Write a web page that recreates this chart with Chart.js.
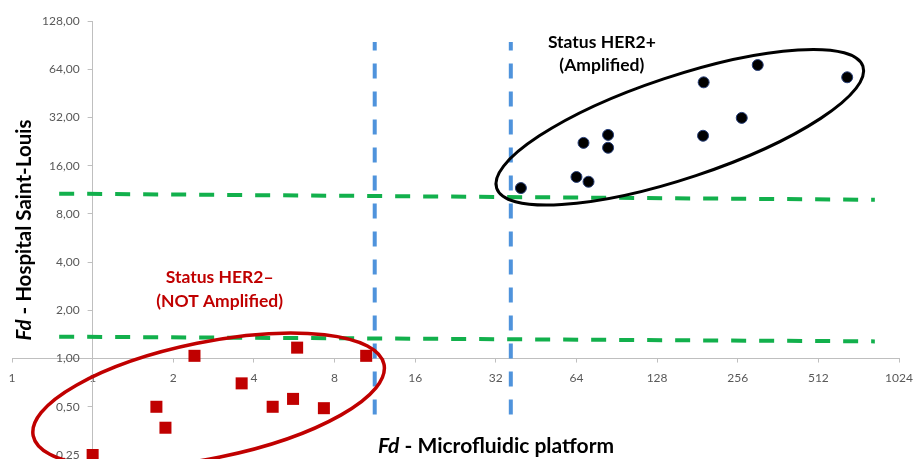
<!DOCTYPE html>
<html>
<head>
<meta charset="utf-8">
<script src="https://cdn.jsdelivr.net/npm/chart.js@4.4.0/dist/chart.umd.min.js"></script>
<style>
  html, body { margin: 0; padding: 0; background: #fff; }
  #wrap { width: 913px; height: 459px; }
</style>
</head>
<body>
<div id="wrap"><canvas id="fdChart"></canvas></div>
<script>
// tick values, both axes are log2
const xTicks = [0.5, 1, 2, 4, 8, 16, 32, 64, 128, 256, 512, 1024];
const yTicks = [0.25, 0.5, 1, 2, 4, 8, 16, 32, 64, 128];

// HER2- samples (not amplified)
const negX = [1, 1.73, 1.87, 2.4, 3.6, 4.7, 5.6, 5.8, 7.3, 10.5];
const negY = [0.25, 0.5, 0.37, 1.04, 0.70, 0.5, 0.56, 1.17, 0.49, 1.04];

// HER2+ samples (amplified)
const posX = [39.7, 64, 71, 68, 84, 84, 191, 304, 656, 265, 190];
const posY = [11.6, 13.6, 12.7, 22.2, 24.9, 20.7, 53, 68, 57, 31.8, 24.6];

// cut-off lines
const cutX = [11.3, 36.4];              // microfluidic thresholds
const cutXSpan = [0.448, 94.6];
const cutY = [[10.7, 9.8], [1.37, 1.28]]; // hospital thresholds (left, right)
const cutYSpan = [0.75, 832];

const toPts = (xs, ys) => xs.map((x, i) => ({ x: x, y: ys[i] }));

const fmtY = v => v.toFixed(2).replace('.', ',');

function flatAxis(scale) {
    scale.paddingLeft = scale.paddingRight = scale.paddingTop = scale.paddingBottom = 0;
    if (scale.isHorizontal()) scale.height = 0; else scale.width = 0;
}

// move the axes so they cross at (1, 1) like in the excel chart
const crossAxes = {
    id: 'crossAxes',
    afterLayout(chart) {
        const { x, y } = chart.scales;
        const px = x.getPixelForValue(1);
        const py = y.getPixelForValue(1);
        y.left = px - 90;
        y.right = px;
        x.top = py;
        x.bottom = py + 40;
    }
};

// ellipses, group labels and axis titles
const notes = {
    id: 'notes',
    afterDraw(chart, args, opts) {
        const ctx = chart.ctx;
        const { x, y } = chart.scales;
        ctx.save();
        opts.rings.forEach(r => {
            ctx.beginPath();
            ctx.ellipse(x.getPixelForValue(r.x), y.getPixelForValue(r.y), r.rx, r.ry, r.rot * Math.PI / 180, 0, Math.PI * 2);
            ctx.lineWidth = r.width;
            ctx.strokeStyle = r.color;
            ctx.stroke();
        });
        ctx.textAlign = 'center';
        ctx.textBaseline = 'middle';
        opts.labels.forEach(l => {
            ctx.fillStyle = l.color;
            ctx.font = 'bold ' + l.size + 'px Lato';
            const cx = x.getPixelForValue(l.x);
            const cy = y.getPixelForValue(l.y);
            l.lines.forEach((t, i) => ctx.fillText(t, cx, cy + i * l.gap));
        });
        // axis titles with italic "Fd"
        opts.titles.forEach(t => {
            ctx.save();
            ctx.translate(t.x, t.y);
            ctx.rotate(t.rot * Math.PI / 180);
            ctx.fillStyle = '#000';
            ctx.textAlign = 'left';
            ctx.textBaseline = 'alphabetic';
            const a = 'italic bold ' + t.size + 'px Lato';
            const b = 'bold ' + t.size + 'px Lato';
            ctx.font = a;
            const w1 = ctx.measureText('Fd').width;
            ctx.font = b;
            const w2 = ctx.measureText(t.text).width;
            const start = -(w1 + w2) / 2;
            ctx.font = a;
            ctx.fillText('Fd', start, 0);
            ctx.font = b;
            ctx.fillText(t.text, start + w1, 0);
            ctx.restore();
        });
        ctx.restore();
    }
};

const datasets = [
    {
        label: 'HER2-',
        data: toPts(negX, negY),
        pointStyle: 'rect',
        pointRadius: 8.5,
        backgroundColor: '#C00000',
        borderColor: '#C00000',
        borderWidth: 0,
        clip: false
    },
    {
        label: 'HER2+',
        data: toPts(posX, posY),
        pointStyle: 'circle',
        pointRadius: 5.5,
        backgroundColor: '#000',
        borderColor: '#28407a',
        borderWidth: 1,
        clip: false
    }
];
cutX.forEach(v => datasets.push({
    data: [{ x: v, y: cutXSpan[0] }, { x: v, y: cutXSpan[1] }],
    showLine: true,
    borderColor: '#4F93DC',
    borderWidth: 4,
    borderDash: [15, 13],
    pointRadius: 0,
    clip: false
}));
cutY.forEach(v => datasets.push({
    data: [{ x: cutYSpan[0], y: v[0] }, { x: cutYSpan[1], y: v[1] }],
    showLine: true,
    borderColor: '#12B04C',
    borderWidth: 4,
    borderDash: [15, 13],
    pointRadius: 0,
    clip: false
}));

const ctx = document.getElementById('fdChart').getContext('2d');
const fdChart = new Chart(ctx, {
    type: 'scatter',
    data: { datasets: datasets },
    plugins: [crossAxes, notes],
    options: {
        responsive: true,
        maintainAspectRatio: false,
        animation: false,
        layout: { autoPadding: false, padding: { left: 12, right: 14, top: 21, bottom: 4 } },
        plugins: {
            legend: { display: false },
            tooltip: { enabled: false },
            notes: {
                rings: [
                    { x: 2.71, y: 0.55, rx: 179, ry: 58, rot: -11.5, color: '#C00000', width: 3.5 },
                    { x: 155.6, y: 27.8, rx: 193, ry: 51, rot: -18.4, color: '#000', width: 3 }
                ],
                labels: [
                    { lines: ['Status HER2+', '(Amplified)'], x: 79.6, y: 94.6, gap: 23, size: 17.5, color: '#000' },
                    { lines: ['Status HER2\u2013', '(NOT Amplified)'], x: 2.98, y: 3.2, gap: 24, size: 17.5, color: '#C00000' }
                ],
                titles: [
                    { text: ' - Hospital Saint-Louis', x: 31, y: 230, rot: -90, size: 20.5 },
                    { text: ' - Microfluidic platform', x: 496, y: 453, rot: 0, size: 21 }
                ]
            }
        },
        scales: {
            x: {
                type: 'logarithmic',
                position: 'bottom',
                min: 0.5,
                max: 1024,
                afterBuildTicks: s => { s.ticks = xTicks.map(v => ({ value: v })); },
                afterFit: flatAxis,
                ticks: {
                    callback: v => String(Math.round(v)),
                    color: '#595959',
                    font: { family: 'Lato', size: 12 },
                    padding: 8,
                    maxRotation: 0,
                    autoSkip: false
                },
                grid: { drawOnChartArea: false, tickLength: 4, color: '#BFBFBF' },
                border: { color: '#BFBFBF', width: 1 }
            },
            y: {
                type: 'logarithmic',
                position: 'left',
                min: 0.25,
                max: 128,
                afterBuildTicks: s => { s.ticks = yTicks.map(v => ({ value: v })); },
                afterFit: flatAxis,
                ticks: {
                    callback: v => fmtY(v),
                    color: '#595959',
                    font: { family: 'Lato', size: 12 },
                    padding: 8,
                    autoSkip: false
                },
                grid: { drawOnChartArea: false, tickLength: 5, color: '#BFBFBF' },
                border: { color: '#BFBFBF', width: 1 }
            }
        }
    }
});
</script>
</body>
</html>
